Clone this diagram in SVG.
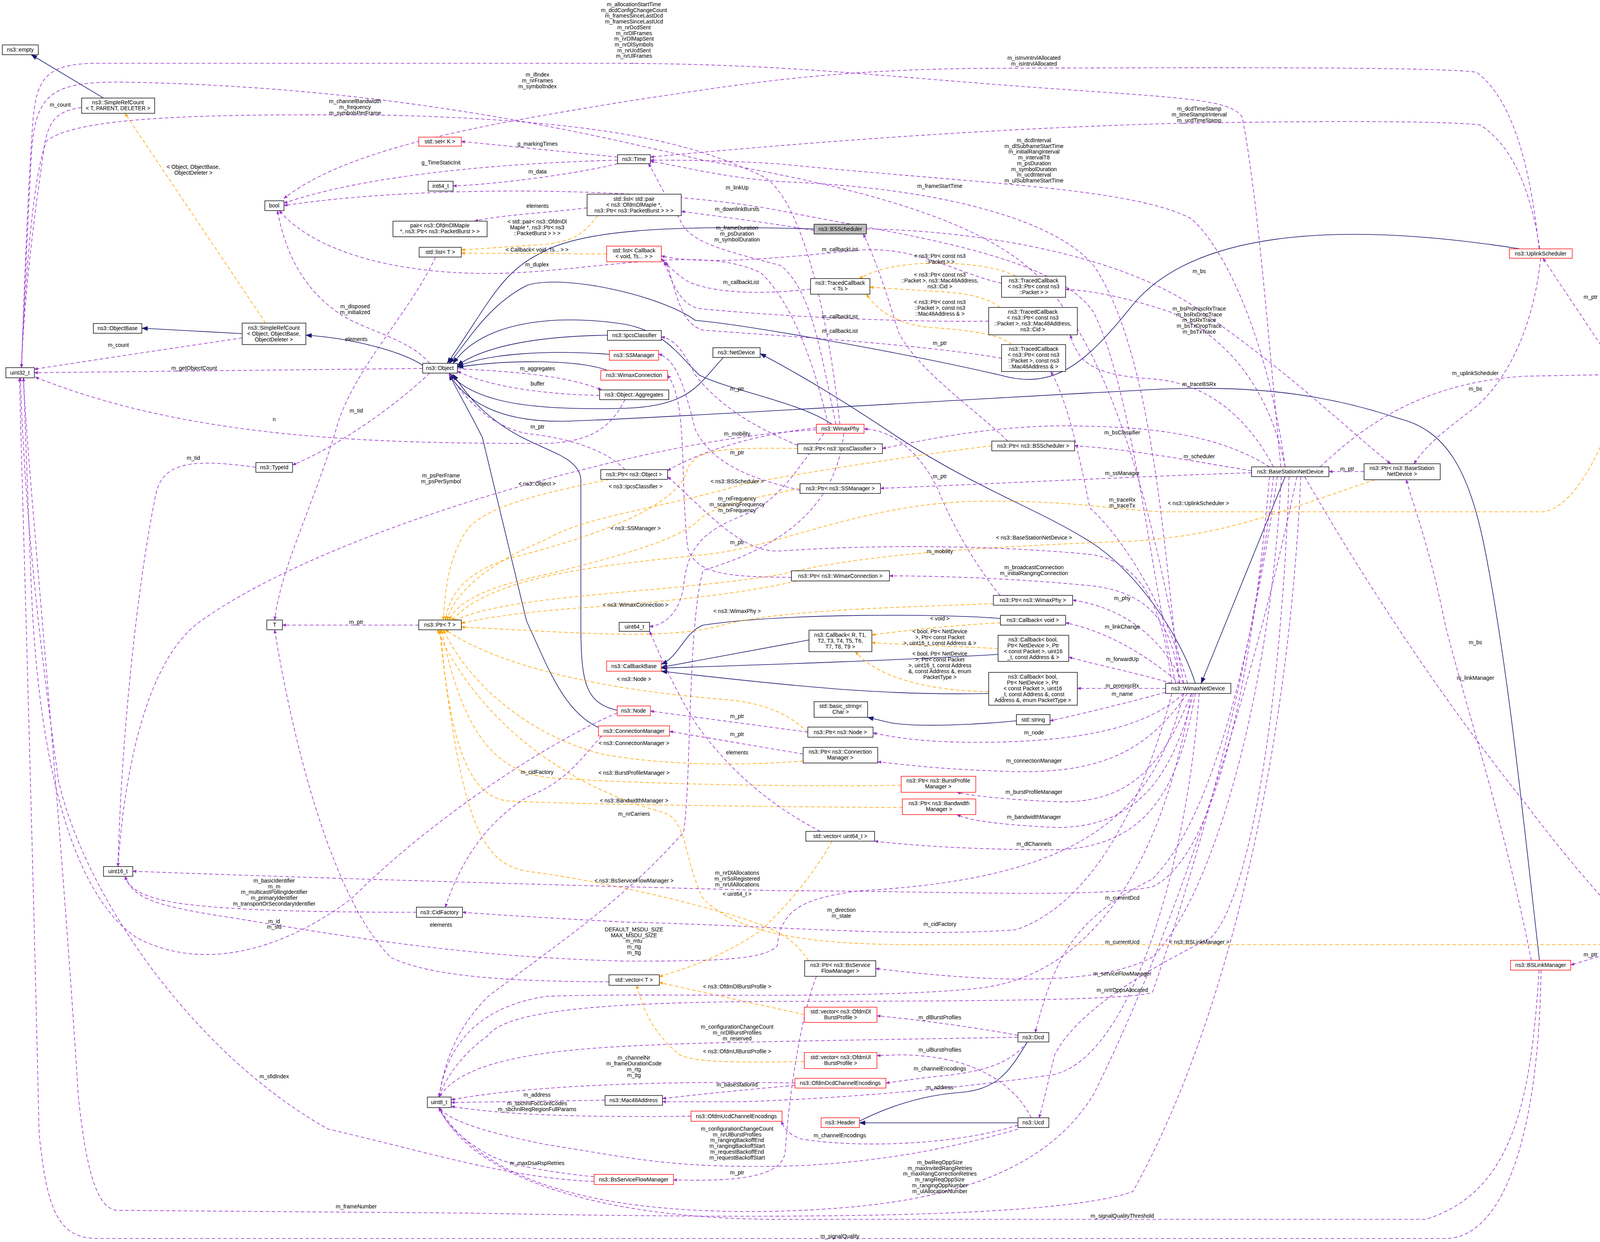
<svg xmlns="http://www.w3.org/2000/svg" width="4359" height="3179" viewBox="0 0 4359 3179">
<style>
text{font-family:"Liberation Sans",Arial,sans-serif;font-size:14px;fill:#000;text-anchor:middle}
.n rect{fill:#fff;stroke:#000;stroke-width:1.4}
.r rect{stroke:#f00}
.g rect{fill:#bfbfbf}
.e path{fill:none;stroke-width:1.6}
.p{stroke:#9a32cd;stroke-dasharray:9,6;marker-end:url(#mp)}
.o{stroke:orange;stroke-dasharray:9,6;marker-end:url(#mo)}
.b{stroke:midnightblue;marker-end:url(#mb)}
</style>
<defs>
<marker id="mp" markerWidth="10" markerHeight="8" refX="9" refY="4" orient="auto" markerUnits="userSpaceOnUse" viewBox="0 0 10 8"><path d="M0,0L10,4L0,8z" fill="#9a32cd"/></marker>
<marker id="mo" markerWidth="10" markerHeight="8" refX="9" refY="4" orient="auto" markerUnits="userSpaceOnUse" viewBox="0 0 10 8"><path d="M0,0L10,4L0,8z" fill="orange"/></marker>
<marker id="mb" markerWidth="16" markerHeight="12" refX="15" refY="6" orient="auto" markerUnits="userSpaceOnUse" viewBox="0 0 16 12"><path d="M0,0L16,6L0,12z" fill="midnightblue"/></marker>
</defs>
<rect width="4359" height="3179" fill="#fff"/>
<g id="edges" class="e">
<path class="b" d="M265,251 L80,140"/>
<path class="b" d="M620,854 L363,840"/>
<path class="b" d="M1082,935 C1030,900 900,865 783,858"/>
<path class="b" d="M2084,586 C1700,575 1480,590 1380,650 C1280,700 1250,780 1145,930"/>
<path class="b" d="M1555,858 C1400,860 1250,880 1171,935"/>
<path class="b" d="M1560,907 C1400,895 1250,905 1171,938"/>
<path class="b" d="M1555,948 C1480,920 1300,920 1171,940"/>
<path class="b" d="M1852,915 C1790,980 1770,1040 1600,1045 C1400,1050 1220,1040 1150,955"/>
<path class="b" d="M3891,637 C3400,560 3050,600 2900,780 C2780,930 2700,1000 2560,960 C2300,900 1900,830 1780,820 C1700,760 1450,700 1350,730 C1250,780 1200,870 1150,930"/>
<path class="b" d="M2130,1086 C2050,1030 1870,1000 1790,960 C1730,900 1700,850 1600,830 C1400,800 1230,830 1160,930"/>
<path class="b" d="M3941,2458 C3900,2100 3860,1700 3800,1400 C3760,1200 3700,1100 3580,1071 C3400,1010 3200,980 2900,1000 C2500,1020 1700,1070 1450,1078 C1300,1082 1200,1040 1150,958"/>
<path class="b" d="M3060,1749 C3020,1620 2900,1450 2780,1380 C2650,1300 2500,1250 2300,1120 C2150,1020 2050,960 1946,905"/>
<path class="b" d="M3290,1220 L3075,1749"/>
<path class="b" d="M1580,1818 C1500,1800 1487,1750 1487,1600 L1487,1230 C1487,1180 1420,1160 1380,1140 C1260,1090 1200,1020 1160,958"/>
<path class="b" d="M1532,1862 C1440,1820 1400,1700 1348,1590 L1235,1120 C1200,1050 1170,1000 1150,958"/>
<path class="b" d="M2561,1583 C2400,1570 2000,1570 1800,1600 C1750,1620 1740,1680 1693,1700"/>
<path class="b" d="M2071,1638 L1693,1708"/>
<path class="b" d="M2555,1675 C2300,1690 2000,1700 1693,1710"/>
<path class="b" d="M2531,1775 C2300,1780 2100,1765 1693,1718"/>
<path class="b" d="M2602,1845 C2500,1855 2350,1862 2280,1850 L2221,1836"/>
<path class="b" d="M2630,2667 C2580,2750 2550,2790 2450,2797 C2350,2805 2250,2840 2170,2886"/>
<path class="b" d="M2606,2874 L2200,2874"/>

<path class="o" d="M680,827 L320,290"/>
<path class="o" d="M1530,552 C1500,590 1480,615 1400,625 L1181,640"/>
<path class="o" d="M1553,650 L1181,648"/>
<path class="o" d="M2600,707 C2550,680 2450,670 2350,675 C2280,680 2230,695 2200,713"/>
<path class="o" d="M2560,787 C2520,755 2450,748 2380,745 L2227,735"/>
<path class="o" d="M2590,882 C2560,855 2480,845 2380,838 C2300,830 2250,800 2218,753"/>
<path class="o" d="M1560,1227 C1400,1260 1260,1290 1200,1350 C1150,1420 1140,1500 1135,1587"/>
<path class="o" d="M2042,1148 C1850,1145 1780,1150 1760,1200 C1740,1300 1500,1380 1300,1430 C1180,1470 1150,1530 1140,1587"/>
<path class="o" d="M2539,1141 C2300,1170 2000,1220 1900,1240 C1700,1300 1500,1320 1400,1380 C1250,1440 1160,1520 1145,1587"/>
<path class="o" d="M2048,1250 C1900,1280 1820,1300 1790,1330 C1740,1380 1600,1420 1400,1470 C1250,1500 1170,1540 1150,1587"/>
<path class="o" d="M4150,972 C4130,1100 4040,1300 3950,1310 L2980,1310 C2850,1305 2750,1280 2500,1283 C2200,1290 2000,1400 1800,1420 C1500,1450 1250,1480 1155,1590"/>
<path class="o" d="M3520,1228 C3300,1300 3150,1370 2900,1385 C2500,1400 2200,1420 2000,1470 C1700,1520 1300,1520 1160,1590"/>
<path class="o" d="M2040,1487 C1900,1520 1700,1540 1500,1555 C1350,1565 1250,1580 1181,1595"/>
<path class="o" d="M2543,1545 C2300,1555 2000,1560 1850,1600 C1700,1640 1500,1620 1181,1605"/>
<path class="o" d="M2068,1874 C2030,1840 1980,1800 1850,1790 C1600,1770 1300,1720 1140,1612"/>
<path class="o" d="M2056,1948 C1900,1960 1700,1960 1540,1930 C1350,1880 1200,1750 1135,1612"/>
<path class="o" d="M2307,2010 C2000,2015 1600,2005 1400,1990 C1250,1970 1180,1850 1130,1612"/>
<path class="o" d="M2310,2067 C2000,2065 1500,2060 1300,2050 C1200,2040 1150,1900 1128,1612"/>
<path class="o" d="M2070,2459 C2030,2400 1990,2380 1900,2350 C1700,2290 1500,2250 1350,2230 C1230,2210 1180,2100 1125,1612"/>
<path class="o" d="M4117,2418 L2400,2418 C2100,2420 1900,2400 1800,2300 C1750,2200 1760,2100 1700,2080 C1400,2000 1200,1800 1120,1612"/>
<path class="o" d="M2130,2153 C2070,2260 2000,2330 1950,2380 C1850,2450 1750,2480 1688,2500"/>
<path class="o" d="M2059,2597 L1688,2515"/>
<path class="o" d="M2059,2717 C1900,2720 1780,2720 1740,2700 C1680,2650 1650,2600 1630,2522"/>
<path class="o" d="M2561,1594 C2450,1600 2350,1610 2232,1625"/>
<path class="o" d="M2555,1660 C2450,1655 2320,1650 2232,1645"/>
<path class="o" d="M2531,1770 C2400,1770 2250,1740 2190,1668"/>

<path class="p" d="M209,275 C150,285 120,300 110,400 C80,600 60,800 55,941"/>
<path class="p" d="M620,865 C450,890 250,920 88,945"/>
<path class="p" d="M1082,943 L88,954"/>
<path class="p" d="M1600,1023 C1570,1080 1530,1130 1400,1135 C1000,1135 500,1130 90,965"/>
<path class="p" d="M1581,402 L1181,362"/>
<path class="p" d="M1581,410 C1200,420 900,460 727,520"/>
<path class="p" d="M1581,419 C1500,440 1300,470 1160,476"/>
<path class="p" d="M1503,532 C1400,545 1280,550 1215,566"/>
<path class="p" d="M1115,658 C1050,800 900,950 860,1100 C800,1300 720,1450 703,1587"/>
<path class="p" d="M1100,930 C1050,870 950,850 880,810 C770,740 730,640 710,539"/>
<path class="p" d="M1100,955 C1000,1050 850,1150 749,1190"/>
<path class="p" d="M1171,944 C1300,950 1450,960 1540,998"/>
<path class="p" d="M1535,1012 C1400,1010 1250,990 1171,950"/>
<path class="p" d="M1600,1202 C1550,1150 1450,1120 1350,1110 C1250,1090 1180,1010 1150,956"/>
<path class="p" d="M1072,1600 L723,1600"/>
<path class="p" d="M655,1196 C500,1175 420,1180 400,1260 C350,1500 310,1900 302,2218"/>
<path class="p" d="M3010,1749 C2950,1500 2900,1000 2800,800 C2700,650 2300,600 2000,540 C1700,480 1100,470 727,526"/>
<path class="p" d="M2120,1086 C2100,1000 2050,800 1950,700 C1800,620 1500,700 1250,700 C1000,700 800,640 715,539"/>
<path class="p" d="M2084,590 C2000,575 1850,555 1744,541"/>
<path class="p" d="M2218,586 C2500,590 2850,650 3050,780 C3300,950 3450,1100 3560,1187"/>
<path class="p" d="M2140,1086 C2100,900 2080,750 2000,680 C1850,640 1760,620 1740,560 C1700,500 1680,450 1660,419"/>
<path class="p" d="M2150,1086 C2120,800 2050,500 1950,450 C1800,380 1600,310 1000,295 C500,290 200,300 120,360 C80,450 60,800 55,941"/>
<path class="p" d="M3030,1749 C2950,1300 2850,900 2650,700 C2500,560 2200,480 1800,410 C1500,340 1000,220 300,210 C120,210 90,250 80,400 C70,600 60,800 55,941"/>
<path class="p" d="M3279,1195 C3250,900 3220,500 3180,300 C3150,250 3000,250 2600,220 C2200,190 2000,165 1600,162 L250,162 C120,162 95,200 85,300 C70,500 60,800 55,941"/>
<path class="p" d="M3940,637 C3920,450 3880,260 3780,185 C3700,172 3200,172 2500,175 C2100,180 1900,215 1600,260 C1300,310 900,370 727,508"/>
<path class="p" d="M3942,637 C3920,500 3880,380 3790,320 C3700,308 3300,310 3000,316 C2500,330 2000,370 1665,402"/>
<path class="p" d="M3290,1195 C3250,900 3150,650 3050,560 C2900,480 2500,470 2000,420 C1850,410 1750,410 1665,410"/>
<path class="p" d="M3020,1749 C2980,1400 2950,900 2800,680 C2700,560 2400,480 2000,465 C1850,455 1720,420 1665,413"/>
<path class="p" d="M2075,740 C1900,760 1800,740 1760,720 C1730,700 1710,680 1693,662"/>
<path class="p" d="M2564,725 C2450,700 2350,630 2200,640 C2000,660 1800,680 1693,655"/>
<path class="p" d="M2531,822 C2300,825 2000,810 1790,790 C1740,780 1720,720 1700,670"/>
<path class="p" d="M2564,917 C2350,880 2000,860 1800,845 C1740,830 1730,740 1705,670"/>
<path class="p" d="M2580,1129 C2500,1050 2350,950 2300,850 C2270,750 2240,660 2210,599"/>
<path class="p" d="M2042,1140 C1950,1100 1850,1050 1780,960 C1750,900 1730,870 1693,862"/>
<path class="p" d="M2048,1255 C1950,1230 1830,1200 1780,1100 C1750,980 1730,920 1686,906"/>
<path class="p" d="M2026,1478 C1900,1475 1780,1480 1760,1400 C1740,1200 1760,1030 1709,960"/>
<path class="p" d="M2560,1524 C2500,1450 2440,1350 2400,1250 C2350,1150 2280,1100 2212,1098"/>
<path class="p" d="M2090,1095 C1950,1110 1800,1150 1709,1205"/>
<path class="p" d="M3000,1749 C2980,1600 2950,1450 2800,1420 C2600,1400 2300,1390 2000,1410 C1900,1420 1800,1300 1709,1220"/>
<path class="p" d="M2110,1109 C2040,1200 2000,1280 1900,1320 C1800,1360 1760,1400 1750,1500 C1740,1570 1700,1600 1663,1604"/>
<path class="p" d="M2090,1100 C1900,1110 1700,1150 1500,1200 C1100,1300 700,1450 500,1600 C380,1700 320,1950 302,2218"/>
<path class="p" d="M2160,1109 C2140,1300 2000,1400 1800,1460 C1760,1600 1770,2000 1750,2130 C1600,2300 1450,2400 1250,2550 C1180,2620 1140,2700 1124,2808"/>
<path class="p" d="M4140,946 L3950,661"/>
<path class="p" d="M3492,1207 L3402,1207"/>
<path class="p" d="M3944,661 C3930,800 3880,950 3780,1040 C3700,1100 3650,1140 3620,1187"/>
<path class="p" d="M3920,2458 C3850,2100 3750,1800 3700,1600 C3660,1400 3620,1300 3600,1228"/>
<path class="p" d="M3380,1195 C3500,1080 3650,980 3900,963 L4114,959"/>
<path class="p" d="M3204,1205 C3050,1180 2900,1150 2751,1141"/>
<path class="p" d="M3250,1195 C3100,1100 2900,1090 2700,1090 C2500,1095 2350,1130 2259,1148"/>
<path class="p" d="M3204,1210 C2900,1220 2500,1240 2254,1250"/>
<path class="p" d="M3290,1195 C3250,1000 3150,870 3000,800 C2850,750 2780,745 2728,740"/>
<path class="p" d="M3260,1195 C3200,1080 3100,980 2950,970 C2800,960 2760,930 2740,857"/>
<path class="p" d="M3340,1220 C3500,1500 3700,1800 3900,2050 C4050,2250 4150,2350 4200,2406"/>
<path class="p" d="M3270,1220 C3200,1700 3100,2100 2950,2250 C2750,2350 2700,2450 2650,2643"/>
<path class="p" d="M3300,1220 C3280,1800 3200,2300 3100,2400 C2900,2500 2750,2600 2700,2700 C2680,2780 2670,2830 2660,2861"/>
<path class="p" d="M3280,1220 C3250,1800 3100,2300 2950,2450 C2800,2530 2500,2510 2242,2479"/>
<path class="p" d="M3260,1220 C3200,1800 3000,2400 2950,2540 C2900,2560 2500,2563 2000,2563 C1600,2565 1300,2580 1250,2650 C1180,2700 1140,2760 1124,2808"/>
<path class="p" d="M3320,1220 C3200,1800 3000,2400 2800,2800 C2650,3050 2300,3090 2000,3100 C1600,3110 1250,3050 1124,2835"/>
<path class="p" d="M3250,1220 C3200,1800 3100,2200 2950,2270 C2800,2300 2400,2280 2000,2280 C1200,2260 600,2240 340,2230"/>
<path class="p" d="M3330,1220 C3300,1900 3150,2600 2900,3050 C2700,3120 2000,3120 1200,3105 L300,3098 C250,3095 220,3000 200,2800 C150,2000 70,1200 60,967"/>
<path class="p" d="M3940,2483 C3920,2800 3880,3050 3650,3121 L2000,3121 C1500,3121 1200,3000 1124,2835"/>
<path class="p" d="M3945,2483 C3940,2900 3850,3170 3700,3170 L250,3170 C150,3170 120,3100 100,2900 C80,2000 55,1200 50,967"/>
<path class="p" d="M1521,3024 C1300,3015 1100,2950 840,2890 C500,2700 220,2300 150,2000 C80,1500 60,1200 52,967"/>
<path class="p" d="M1521,3012 C1400,3000 1300,2980 1260,2960 C1200,2930 1140,2880 1124,2835"/>
<path class="p" d="M2090,2499 C2050,2600 2020,2800 2010,2950 C2000,3010 1900,3025 1724,3020"/>
<path class="p" d="M1580,1825 C1400,1900 1100,2100 900,2300 C700,2450 500,2480 350,2400 C200,2300 100,2000 80,1500 L60,967"/>
<path class="p" d="M1066,2335 C800,2335 500,2330 400,2300 C350,2285 330,2270 320,2243"/>
<path class="p" d="M1559,2513 C1300,2512 1100,2500 1000,2450 C850,2300 750,1900 703,1612"/>
<path class="p" d="M2100,2128 C1950,2050 1850,1950 1780,1850 C1720,1750 1700,1700 1663,1616"/>
<path class="p" d="M2068,1874 L1665,1820"/>
<path class="p" d="M2056,1930 L1714,1872"/>
<path class="p" d="M1540,1884 C1480,1950 1450,2000 1350,2040 C1250,2100 1180,2200 1140,2322"/>
<path class="p" d="M3000,1775 C2900,2150 2750,2330 2600,2380 C2300,2400 2000,2370 1600,2360 C1400,2350 1250,2340 1184,2335"/>
<path class="p" d="M3030,1775 C2950,2100 2750,2250 2200,2280 C2050,2300 2000,2330 1990,2420 C1960,2460 1800,2460 1600,2460 C1200,2450 900,2400 600,2350 C400,2320 340,2300 320,2243"/>
<path class="p" d="M3050,1775 C2980,2200 2800,2500 2500,2530 C2200,2560 1700,2540 1400,2550 C1200,2580 1140,2700 1124,2808"/>
<path class="p" d="M2984,1762 L2758,1762"/>
<path class="p" d="M2984,1772 C2900,1795 2780,1825 2688,1845"/>
<path class="p" d="M3020,1749 C2950,1690 2850,1620 2728,1594"/>
<path class="p" d="M3000,1749 C2900,1720 2800,1700 2736,1682"/>
<path class="p" d="M3030,1775 C2950,1850 2800,1900 2500,1900 C2350,1900 2280,1885 2235,1876"/>
<path class="p" d="M3040,1775 C2950,1900 2850,1980 2600,1975 C2400,1970 2300,1955 2247,1950"/>
<path class="p" d="M3050,1775 C2980,1950 2900,2060 2700,2052 C2550,2045 2480,2035 2450,2028"/>
<path class="p" d="M3055,1775 C3000,2000 2900,2120 2700,2118 C2550,2110 2480,2100 2450,2085"/>
<path class="p" d="M3060,1775 C3020,2000 2950,2170 2700,2175 C2450,2175 2300,2160 2239,2153"/>
<path class="p" d="M3070,1775 C3040,2200 2900,2700 2700,2750 C2500,2780 2200,2810 1900,2820 L1696,2820"/>
<path class="p" d="M3040,1749 C3000,1600 2900,1400 2790,1300 C2760,1150 2730,1020 2690,951"/>
<path class="p" d="M3020,1749 C3000,1600 2950,1520 2800,1500 C2600,1480 2400,1474 2277,1474"/>
<path class="p" d="M3030,1749 C2980,1650 2900,1560 2746,1536"/>
<path class="p" d="M2606,2650 C2500,2630 2350,2610 2245,2600"/>
<path class="p" d="M2640,2861 C2600,2780 2500,2700 2300,2700 L2245,2702"/>
<path class="p" d="M2630,2667 C2580,2730 2500,2745 2400,2755 C2350,2760 2300,2768 2268,2772"/>
<path class="p" d="M2606,2880 C2450,2930 2200,2940 2050,2915 C2010,2900 2005,2880 2000,2870"/>
<path class="p" d="M2606,2655 C2300,2660 2000,2665 1800,2670 C1500,2680 1200,2690 1124,2808"/>
<path class="p" d="M2606,2890 C2400,2950 2200,2980 2000,2985 C1700,2990 1600,2960 1400,2930 C1250,2900 1150,2870 1124,2835"/>
<path class="p" d="M2035,2772 C1800,2768 1400,2770 1155,2815"/>
<path class="p" d="M2035,2778 C1900,2790 1800,2800 1696,2812"/>
<path class="p" d="M1549,2816 L1155,2822"/>
<path class="p" d="M1769,2857 C1500,2860 1300,2855 1155,2832"/>
<path class="p" d="M4150,2431 L4021,2470"/>
</g>
<g id="edge-labels">
<text x="495" y="432">&lt; Object, ObjectBase,<tspan x="495" dy="15">ObjectDeleter &gt;</tspan></text>
<text x="1375" y="572">&lt; std::pair&lt; ns3::OfdmDl<tspan x="1375" dy="15">MapIe *, ns3::Ptr&lt; ns3</tspan><tspan x="1375" dy="15">::PacketBurst &gt; &gt; &gt;</tspan></text>
<text x="1375" y="644">&lt; Callback&lt; void, Ts... &gt; &gt;</text>
<text x="2406" y="660">&lt; ns3::Ptr&lt; const ns3<tspan x="2406" dy="15">::Packet &gt; &gt;</tspan></text>
<text x="2406" y="708">&lt; ns3::Ptr&lt; const ns3<tspan x="2406" dy="15">::Packet &gt;, ns3::Mac48Address,</tspan><tspan x="2406" dy="15">ns3::Cid &gt;</tspan></text>
<text x="2406" y="778">&lt; ns3::Ptr&lt; const ns3<tspan x="2406" dy="15">::Packet &gt;, const ns3</tspan><tspan x="2406" dy="15">::Mac48Address &amp; &gt;</tspan></text>
<text x="1375" y="1243">&lt; ns3::Object &gt;</text>
<text x="1627" y="1250">&lt; ns3::IpcsClassifier &gt;</text>
<text x="1887" y="1237">&lt; ns3::BSScheduler &gt;</text>
<text x="1627" y="1357">&lt; ns3::SSManager &gt;</text>
<text x="3068" y="1293">&lt; ns3::UplinkScheduler &gt;</text>
<text x="2647" y="1381">&lt; ns3::BaseStationNetDevice &gt;</text>
<text x="1627" y="1553">&lt; ns3::WimaxConnection &gt;</text>
<text x="1887" y="1569">&lt; ns3::WimaxPhy &gt;</text>
<text x="1623" y="1743">&lt; ns3::Node &gt;</text>
<text x="1623" y="1907">&lt; ns3::ConnectionManager &gt;</text>
<text x="1623" y="1983">&lt; ns3::BurstProfileManager &gt;</text>
<text x="1623" y="2054">&lt; ns3::BandwidthManager &gt;</text>
<text x="1623" y="2259">&lt; ns3::BsServiceFlowManager &gt;</text>
<text x="3070" y="2416">&lt; ns3::BSLinkManager &gt;</text>
<text x="1887" y="2293">&lt; uint64_t &gt;</text>
<text x="1887" y="2530">&lt; ns3::OfdmDlBurstProfile &gt;</text>
<text x="1887" y="2696">&lt; ns3::OfdmUlBurstProfile &gt;</text>
<text x="2406" y="1588">&lt; void &gt;</text>
<text x="2406" y="1621">&lt; bool, Ptr&lt; NetDevice<tspan x="2406" dy="15">&gt;, Ptr&lt; const Packet</tspan><tspan x="2406" dy="15">&gt;, uint16_t, const Address &amp; &gt;</tspan></text>
<text x="2406" y="1678">&lt; bool, Ptr&lt; NetDevice<tspan x="2406" dy="15">&gt;, Ptr&lt; const Packet</tspan><tspan x="2406" dy="15">&gt;, uint16_t, const Address</tspan><tspan x="2406" dy="15">&amp;, const Address &amp;, enum</tspan><tspan x="2406" dy="15">PacketType &gt;</tspan></text>
<text x="154" y="273">m_count</text>
<text x="303" y="888">m_count</text>
<text x="497" y="947">m_getObjectCount</text>
<text x="702" y="1078">n</text>
<text x="1376" y="373">g_markingTimes</text>
<text x="1129" y="421">g_TimeStaticInit</text>
<text x="1376" y="444">m_data</text>
<text x="1376" y="532">elements</text>
<text x="912" y="873">elements</text>
<text x="909" y="789">m_disposed<tspan x="909" dy="15">m_initialized</tspan></text>
<text x="912" y="1056">m_tid</text>
<text x="1376" y="948">m_aggregates</text>
<text x="1376" y="987">buffer</text>
<text x="1376" y="1097">m_ptr</text>
<text x="912" y="1597">m_ptr</text>
<text x="495" y="1177">m_tid</text>
<text x="1887" y="485">m_linkUp</text>
<text x="1375" y="682">m_duplex</text>
<text x="1887" y="540">m_downlinkBursts</text>
<text x="3070" y="699">m_bs</text>
<text x="1887" y="588">m_frameDuration<tspan x="1887" dy="15">m_psDuration</tspan><tspan x="1887" dy="15">m_symbolDuration</tspan></text>
<text x="909" y="264">m_channelBandwidth<tspan x="909" dy="15">m_frequency</tspan><tspan x="909" dy="15">m_symbolsPerFrame</tspan></text>
<text x="1376" y="196">m_ifIndex<tspan x="1376" dy="15">m_nrFrames</tspan><tspan x="1376" dy="15">m_symbolIndex</tspan></text>
<text x="1623" y="16">m_allocationStartTime<tspan x="1623" dy="14.7">m_dcdConfigChangeCount</tspan><tspan x="1623" dy="14.7">m_framesSinceLastDcd</tspan><tspan x="1623" dy="14.7">m_framesSinceLastUcd</tspan><tspan x="1623" dy="14.7">m_nrDcdSent</tspan><tspan x="1623" dy="14.7">m_nrDlFrames</tspan><tspan x="1623" dy="14.7">m_nrDlMapSent</tspan><tspan x="1623" dy="14.7">m_nrDlSymbols</tspan><tspan x="1623" dy="14.7">m_nrUcdSent</tspan><tspan x="1623" dy="14.7">m_nrUlFrames</tspan><tspan x="1623" dy="14.7">...</tspan></text>
<text x="2647" y="153">m_isInvIntrvlAllocated<tspan x="2647" dy="15">m_isIntrvlAllocated</tspan></text>
<text x="3070" y="283">m_dcdTimeStamp<tspan x="3070" dy="15">m_timeStampIrInterval</tspan><tspan x="3070" dy="15">m_ucdTimeStamp</tspan></text>
<text x="2647" y="364">m_dcdInterval<tspan x="2647" dy="14.7">m_dlSubframeStartTime</tspan><tspan x="2647" dy="14.7">m_initialRangInterval</tspan><tspan x="2647" dy="14.7">m_intervalT8</tspan><tspan x="2647" dy="14.7">m_psDuration</tspan><tspan x="2647" dy="14.7">m_symbolDuration</tspan><tspan x="2647" dy="14.7">m_ucdInterval</tspan><tspan x="2647" dy="14.7">m_ulSubframeStartTime</tspan></text>
<text x="2406" y="481">m_frameStartTime</text>
<text x="1897" y="727">m_callbackList</text>
<text x="2150" y="643">m_callbackList</text>
<text x="2150" y="815">m_callbackList</text>
<text x="2150" y="852">m_callbackList</text>
<text x="2406" y="883">m_ptr</text>
<text x="1887" y="1000">m_ptr</text>
<text x="1887" y="1163">m_ptr</text>
<text x="1887" y="1393">m_ptr</text>
<text x="2406" y="1224">m_ptr</text>
<text x="1887" y="1115">m_mobility</text>
<text x="2406" y="1416">m_mobility</text>
<text x="1887" y="1281">m_rxFrequency<tspan x="1887" dy="15">m_scanningFrequency</tspan><tspan x="1887" dy="15">m_txFrequency</tspan></text>
<text x="1129" y="1222">m_psPerFrame<tspan x="1129" dy="15">m_psPerSymbol</tspan></text>
<text x="1623" y="2088">m_nrCarriers</text>
<text x="4072" y="765">m_ptr</text>
<text x="3449" y="1205">m_ptr</text>
<text x="3777" y="1000">m_bs</text>
<text x="3777" y="1649">m_bs</text>
<text x="3777" y="960">m_uplinkScheduler</text>
<text x="3070" y="1173">m_scheduler</text>
<text x="2873" y="1112">m_bsClassifier</text>
<text x="2873" y="1216">m_ssManager</text>
<text x="3070" y="795">m_bsPromiscRxTrace<tspan x="3070" dy="14.7">m_bsRxDropTrace</tspan><tspan x="3070" dy="14.7">m_bsRxTrace</tspan><tspan x="3070" dy="14.7">m_bsTxDropTrace</tspan><tspan x="3070" dy="14.7">m_bsTxTrace</tspan></text>
<text x="3070" y="988">m_traceBSRx</text>
<text x="3777" y="1740">m_linkManager</text>
<text x="2873" y="2303">m_currentDcd</text>
<text x="2873" y="2416">m_currentUcd</text>
<text x="2873" y="2497">m_serviceFlowManager</text>
<text x="2873" y="2539">m_nrIrOppsAllocated</text>
<text x="2406" y="2980">m_bwReqOppSize<tspan x="2406" dy="14.7">m_maxInvitedRangRetries</tspan><tspan x="2406" dy="14.7">m_maxRangCorrectionRetries</tspan><tspan x="2406" dy="14.7">m_rangReqOppSize</tspan><tspan x="2406" dy="14.7">m_rangingOppNumber</tspan><tspan x="2406" dy="14.7">m_ulAllocationNumber</tspan></text>
<text x="1887" y="2239">m_nrDlAllocations<tspan x="1887" dy="15">m_nrSsRegistered</tspan><tspan x="1887" dy="15">m_nrUlAllocations</tspan></text>
<text x="912" y="3093">m_frameNumber</text>
<text x="2873" y="3117">m_signalQualityThreshold</text>
<text x="2150" y="3169">m_signalQuality</text>
<text x="702" y="2760">m_sfidIndex</text>
<text x="1375" y="2982">m_maxDsaRspRetries</text>
<text x="1887" y="3006">m_ptr</text>
<text x="702" y="2363">m_id<tspan x="702" dy="14">m_sid</tspan></text>
<text x="702" y="2259">m_basicIdentifier<tspan x="702" dy="14.7">m_m</tspan><tspan x="702" dy="14.7">m_multicastPollingIdentifier</tspan><tspan x="702" dy="14.7">m_primaryIdentifier</tspan><tspan x="702" dy="14.7">m_transportOrSecondaryIdentifier</tspan></text>
<text x="1129" y="2372">elements</text>
<text x="1887" y="1931">elements</text>
<text x="1887" y="1838">m_ptr</text>
<text x="1887" y="1884">m_ptr</text>
<text x="1375" y="1981">m_cidFactory</text>
<text x="2406" y="2370">m_cidFactory</text>
<text x="1623" y="2384">DEFAULT_MSDU_SIZE<tspan x="1623" dy="14.7">MAX_MSDU_SIZE</tspan><tspan x="1623" dy="14.7">m_mtu</tspan><tspan x="1623" dy="14.7">m_rtg</tspan><tspan x="1623" dy="14.7">m_ttg</tspan></text>
<text x="2154" y="2334">m_direction<tspan x="2154" dy="15">m_state</tspan></text>
<text x="2873" y="1760">m_promiscRx</text>
<text x="2873" y="1781">m_name</text>
<text x="2873" y="1609">m_linkChange</text>
<text x="2873" y="1692">m_forwardUp</text>
<text x="2647" y="1880">m_node</text>
<text x="2647" y="1952">m_connectionManager</text>
<text x="2647" y="2032">m_burstProfileManager</text>
<text x="2647" y="2096">m_bandwidthManager</text>
<text x="2647" y="2165">m_dlChannels</text>
<text x="2406" y="2788">m_address</text>
<text x="2873" y="1284">m_traceRx<tspan x="2873" dy="15">m_traceTx</tspan></text>
<text x="2647" y="1457">m_broadcastConnection<tspan x="2647" dy="15">m_initialRangingConnection</tspan></text>
<text x="2873" y="1536">m_phy</text>
<text x="2406" y="2609">m_dlBurstProfiles</text>
<text x="2406" y="2692">m_ulBurstProfiles</text>
<text x="2406" y="2740">m_channelEncodings</text>
<text x="2150" y="2911">m_channelEncodings</text>
<text x="1887" y="2633">m_configurationChangeCount<tspan x="1887" dy="15">m_nrDlBurstProfiles</tspan><tspan x="1887" dy="15">m_reserved</tspan></text>
<text x="1887" y="2894">m_configurationChangeCount<tspan x="1887" dy="14.7">m_nrUlBurstProfiles</tspan><tspan x="1887" dy="14.7">m_rangingBackoffEnd</tspan><tspan x="1887" dy="14.7">m_rangingBackoffStart</tspan><tspan x="1887" dy="14.7">m_requestBackoffEnd</tspan><tspan x="1887" dy="14.7">m_requestBackoffStart</tspan></text>
<text x="1623" y="2712">m_channelNr<tspan x="1623" dy="15">m_frameDurationCode</tspan><tspan x="1623" dy="15">m_rtg</tspan><tspan x="1623" dy="15">m_ttg</tspan></text>
<text x="1887" y="2781">m_baseStationId</text>
<text x="1375" y="2807">m_address</text>
<text x="1375" y="2829">m_sbchnlFocContCodes<tspan x="1375" dy="15">m_sbchnlReqRegionFullParams</tspan></text>
<text x="4072" y="2448">m_ptr</text>
</g>
<g id="n_empty" class="n"><rect x="6" y="115" width="92" height="25"/><text x="52" y="132">ns3::empty</text></g>
<g id="n_src_t" class="n"><rect x="209" y="251" width="187" height="39"/><text x="302" y="267">ns3::SimpleRefCount<tspan x="302" dy="15">&lt; T, PARENT, DELETER &gt;</tspan></text></g>
<g id="n_set" class="n r"><rect x="1072" y="351" width="109" height="23"/><text x="1126" y="367">std::set&lt; K &gt;</text></g>
<g id="n_time" class="n"><rect x="1581" y="396" width="84" height="23"/><text x="1623" y="412">ns3::Time</text></g>
<g id="n_int64" class="n"><rect x="1096" y="464" width="64" height="25"/><text x="1128" y="481">int64_t</text></g>
<g id="n_bool" class="n"><rect x="678" y="514" width="49" height="25"/><text x="702" y="531">bool</text></g>
<g id="n_listpair" class="n"><rect x="1503" y="497" width="241" height="55"/><text x="1623" y="514">std::list&lt; std::pair<tspan x="1623" dy="15">&lt; ns3::OfdmDlMapIe *,</tspan><tspan x="1623" dy="15">ns3::Ptr&lt; ns3::PacketBurst &gt; &gt; &gt;</tspan></text></g>
<g id="n_pair" class="n"><rect x="1006" y="566" width="241" height="40"/><text x="1126" y="582">pair&lt; ns3::OfdmDlMapIe<tspan x="1126" dy="15">*, ns3::Ptr&lt; ns3::PacketBurst &gt; &gt;</tspan></text></g>
<g id="n_listT" class="n"><rect x="1073" y="633" width="108" height="25"/><text x="1127" y="650">std::list&lt; T &gt;</text></g>
<g id="n_listcb" class="n r"><rect x="1553" y="630" width="140" height="40"/><text x="1623" y="646">std::list&lt; Callback<tspan x="1623" dy="15">&lt; void, Ts... &gt; &gt;</tspan></text></g>
<g id="n_objectbase" class="n"><rect x="239" y="828" width="124" height="25"/><text x="301" y="845">ns3::ObjectBase</text></g>
<g id="n_src_obj" class="n"><rect x="620" y="827" width="163" height="55"/><text x="701" y="844">ns3::SimpleRefCount<tspan x="701" dy="15">&lt; Object, ObjectBase,</tspan><tspan x="701" dy="15">ObjectDeleter &gt;</tspan></text></g>
<g id="n_uint32" class="n"><rect x="15" y="941" width="73" height="26"/><text x="51" y="959">uint32_t</text></g>
<g id="n_object" class="n"><rect x="1082" y="930" width="89" height="25"/><text x="1126" y="947">ns3::Object</text></g>
<g id="n_ipcs" class="n"><rect x="1555" y="846" width="138" height="25"/><text x="1624" y="863">ns3::IpcsClassifier</text></g>
<g id="n_ssm" class="n r"><rect x="1560" y="897" width="126" height="25"/><text x="1623" y="914">ns3::SSManager</text></g>
<g id="n_wconn" class="n r"><rect x="1538" y="948" width="171" height="25"/><text x="1623" y="965">ns3::WimaxConnection</text></g>
<g id="n_agg" class="n"><rect x="1535" y="998" width="177" height="25"/><text x="1623" y="1015">ns3::Object::Aggregates</text></g>
<g id="n_netdevice" class="n"><rect x="1825" y="890" width="121" height="25"/><text x="1885" y="907">ns3::NetDevice</text></g>
<g id="n_typeid" class="n"><rect x="655" y="1184" width="94" height="25"/><text x="702" y="1201">ns3::TypeId</text></g>
<g id="n_ptrobj" class="n"><rect x="1538" y="1202" width="171" height="25"/><text x="1623" y="1219">ns3::Ptr&lt; ns3::Object &gt;</text></g>
<g id="n_wimaxphy" class="n r"><rect x="2090" y="1086" width="122" height="23"/><text x="2151" y="1102">ns3::WimaxPhy</text></g>
<g id="n_bssched" class="n g"><rect x="2084" y="574" width="134" height="25"/><text x="2151" y="591">ns3::BSScheduler</text></g>
<g id="n_tcts" class="n"><rect x="2075" y="713" width="152" height="40"/><text x="2151" y="729">ns3::TracedCallback<tspan x="2151" dy="15">&lt; Ts &gt;</tspan></text></g>
<g id="n_tcp" class="n"><rect x="2564" y="707" width="164" height="54"/><text x="2646" y="723">ns3::TracedCallback<tspan x="2646" dy="15">&lt; ns3::Ptr&lt; const ns3</tspan><tspan x="2646" dy="15">::Packet &gt; &gt;</tspan></text></g>
<g id="n_tcmc" class="n"><rect x="2531" y="787" width="227" height="70"/><text x="2644" y="803">ns3::TracedCallback<tspan x="2644" dy="15">&lt; ns3::Ptr&lt; const ns3</tspan><tspan x="2644" dy="15">::Packet &gt;, ns3::Mac48Address,</tspan><tspan x="2644" dy="15">ns3::Cid &gt;</tspan></text></g>
<g id="n_tcmr" class="n"><rect x="2564" y="882" width="164" height="69"/><text x="2646" y="898">ns3::TracedCallback<tspan x="2646" dy="15">&lt; ns3::Ptr&lt; const ns3</tspan><tspan x="2646" dy="15">::Packet &gt;, const ns3</tspan><tspan x="2646" dy="15">::Mac48Address &amp; &gt;</tspan></text></g>
<g id="n_upsched" class="n r"><rect x="3864" y="637" width="161" height="24"/><text x="3944" y="654">ns3::UplinkScheduler</text></g>
<g id="n_ptrups" class="n"><rect x="4114" y="946" width="239" height="26"/><text x="4233" y="964">ns3::Ptr&lt; ns3::UplinkScheduler &gt;</text></g>
<g id="n_ptripcs" class="n"><rect x="2042" y="1136" width="217" height="25"/><text x="2150" y="1153">ns3::Ptr&lt; ns3::IpcsClassifier &gt;</text></g>
<g id="n_ptrbss" class="n"><rect x="2539" y="1129" width="212" height="25"/><text x="2645" y="1146">ns3::Ptr&lt; ns3::BSScheduler &gt;</text></g>
<g id="n_bsnd" class="n"><rect x="3204" y="1195" width="198" height="25"/><text x="3303" y="1212">ns3::BaseStationNetDevice</text></g>
<g id="n_ptrbsnd" class="n"><rect x="3492" y="1187" width="195" height="41"/><text x="3589" y="1203">ns3::Ptr&lt; ns3::BaseStation<tspan x="3589" dy="15">NetDevice &gt;</tspan></text></g>
<g id="n_ptrssm" class="n"><rect x="2048" y="1238" width="206" height="25"/><text x="2151" y="1255">ns3::Ptr&lt; ns3::SSManager &gt;</text></g>
<g id="n_ptrwc" class="n"><rect x="2026" y="1461" width="251" height="26"/><text x="2151" y="1479">ns3::Ptr&lt; ns3::WimaxConnection &gt;</text></g>
<g id="n_ptrphy" class="n"><rect x="2543" y="1524" width="203" height="25"/><text x="2644" y="1541">ns3::Ptr&lt; ns3::WimaxPhy &gt;</text></g>
<g id="n_T" class="n"><rect x="683" y="1587" width="40" height="25"/><text x="703" y="1604">T</text></g>
<g id="n_ptrT" class="n"><rect x="1072" y="1587" width="109" height="25"/><text x="1126" y="1604">ns3::Ptr&lt; T &gt;</text></g>
<g id="n_uint64" class="n"><rect x="1585" y="1593" width="78" height="23"/><text x="1624" y="1609">uint64_t</text></g>
<g id="n_cbbase" class="n r"><rect x="1553" y="1692" width="140" height="26"/><text x="1623" y="1710">ns3::CallbackBase</text></g>
<g id="n_node" class="n r"><rect x="1580" y="1807" width="85" height="25"/><text x="1622" y="1824">ns3::Node</text></g>
<g id="n_cm" class="n r"><rect x="1532" y="1858" width="182" height="26"/><text x="1623" y="1876">ns3::ConnectionManager</text></g>
<g id="n_uint16" class="n"><rect x="265" y="2218" width="75" height="25"/><text x="302" y="2235">uint16_t</text></g>
<g id="n_cidf" class="n"><rect x="1066" y="2322" width="118" height="26"/><text x="1125" y="2340">ns3::CidFactory</text></g>
<g id="n_vecT" class="n"><rect x="1559" y="2495" width="129" height="27"/><text x="1623" y="2513">std::vector&lt; T &gt;</text></g>
<g id="n_uint8" class="n"><rect x="1094" y="2808" width="61" height="27"/><text x="1124" y="2826">uint8_t</text></g>
<g id="n_mac48" class="n"><rect x="1549" y="2804" width="147" height="25"/><text x="1622" y="2821">ns3::Mac48Address</text></g>
<g id="n_ucdenc" class="n r"><rect x="1769" y="2844" width="233" height="26"/><text x="1885" y="2862">ns3::OfdmUcdChannelEncodings</text></g>
<g id="n_bssfm" class="n r"><rect x="1521" y="3006" width="203" height="26"/><text x="1622" y="3024">ns3::BsServiceFlowManager</text></g>
<g id="n_header" class="n r"><rect x="2102" y="2861" width="98" height="25"/><text x="2151" y="2878">ns3::Header</text></g>
<g id="n_dcdenc" class="n r"><rect x="2035" y="2760" width="233" height="25"/><text x="2151" y="2777">ns3::OfdmDcdChannelEncodings</text></g>
<g id="n_cbvoid" class="n"><rect x="2561" y="1575" width="167" height="25"/><text x="2644" y="1592">ns3::Callback&lt; void &gt;</text></g>
<g id="n_cbr" class="n"><rect x="2071" y="1613" width="161" height="55"/><text x="2151" y="1630">ns3::Callback&lt; R, T1,<tspan x="2151" dy="15">T2, T3, T4, T5, T6,</tspan><tspan x="2151" dy="15">T7, T8, T9 &gt;</tspan></text></g>
<g id="n_cbb" class="n"><rect x="2555" y="1626" width="181" height="67"/><text x="2645" y="1642">ns3::Callback&lt; bool,<tspan x="2645" dy="15">Ptr&lt; NetDevice &gt;, Ptr</tspan><tspan x="2645" dy="15">&lt; const Packet &gt;, uint16</tspan><tspan x="2645" dy="15">_t, const Address &amp; &gt;</tspan></text></g>
<g id="n_cbp" class="n"><rect x="2531" y="1721" width="227" height="84"/><text x="2644" y="1737">ns3::Callback&lt; bool,<tspan x="2644" dy="15">Ptr&lt; NetDevice &gt;, Ptr</tspan><tspan x="2644" dy="15">&lt; const Packet &gt;, uint16</tspan><tspan x="2644" dy="15">_t, const Address &amp;, const</tspan><tspan x="2644" dy="15">Address &amp;, enum PacketType &gt;</tspan></text></g>
<g id="n_wnd" class="n"><rect x="2984" y="1749" width="167" height="26"/><text x="3067" y="1767">ns3::WimaxNetDevice</text></g>
<g id="n_bstr" class="n"><rect x="2084" y="1796" width="137" height="40"/><text x="2152" y="1812">std::basic_string&lt;<tspan x="2152" dy="15">Char &gt;</tspan></text></g>
<g id="n_str" class="n"><rect x="2602" y="1829" width="86" height="26"/><text x="2645" y="1847">std::string</text></g>
<g id="n_ptrnode" class="n"><rect x="2068" y="1861" width="167" height="26"/><text x="2151" y="1879">ns3::Ptr&lt; ns3::Node &gt;</text></g>
<g id="n_ptrcm" class="n"><rect x="2056" y="1913" width="191" height="40"/><text x="2151" y="1929">ns3::Ptr&lt; ns3::Connection<tspan x="2151" dy="15">Manager &gt;</tspan></text></g>
<g id="n_ptrbpm" class="n r"><rect x="2307" y="1987" width="191" height="41"/><text x="2402" y="2003">ns3::Ptr&lt; ns3::BurstProfile<tspan x="2402" dy="15">Manager &gt;</tspan></text></g>
<g id="n_ptrbwm" class="n r"><rect x="2310" y="2045" width="188" height="40"/><text x="2404" y="2061">ns3::Ptr&lt; ns3::Bandwidth<tspan x="2404" dy="15">Manager &gt;</tspan></text></g>
<g id="n_vecu64" class="n"><rect x="2063" y="2128" width="176" height="25"/><text x="2151" y="2145">std::vector&lt; uint64_t &gt;</text></g>
<g id="n_ptrsfm" class="n"><rect x="2060" y="2459" width="182" height="40"/><text x="2151" y="2475">ns3::Ptr&lt; ns3::BsService<tspan x="2151" dy="15">FlowManager &gt;</tspan></text></g>
<g id="n_vecdl" class="n r"><rect x="2059" y="2578" width="186" height="39"/><text x="2152" y="2594">std::vector&lt; ns3::OfdmDl<tspan x="2152" dy="15">BurstProfile &gt;</tspan></text></g>
<g id="n_vecul" class="n r"><rect x="2059" y="2694" width="186" height="41"/><text x="2152" y="2711">std::vector&lt; ns3::OfdmUl<tspan x="2152" dy="15">BurstProfile &gt;</tspan></text></g>
<g id="n_dcd" class="n"><rect x="2606" y="2643" width="79" height="24"/><text x="2645" y="2660">ns3::Dcd</text></g>
<g id="n_ucd" class="n"><rect x="2606" y="2861" width="79" height="25"/><text x="2645" y="2878">ns3::Ucd</text></g>
<g id="n_ptrbsl" class="n"><rect x="4117" y="2406" width="230" height="25"/><text x="4232" y="2423">ns3::Ptr&lt; ns3::BSLinkManager &gt;</text></g>
<g id="n_bsl" class="n r"><rect x="3867" y="2458" width="154" height="25"/><text x="3944" y="2475">ns3::BSLinkManager</text></g>
</svg>
